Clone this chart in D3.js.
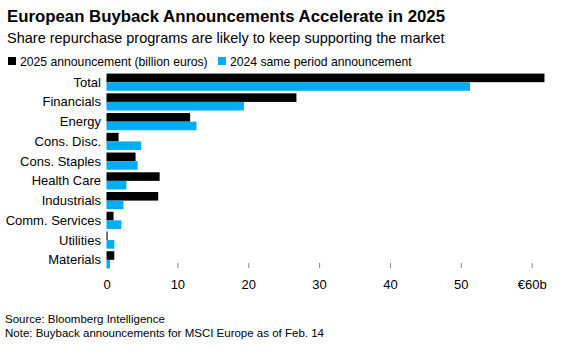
<!DOCTYPE html>
<html>
<head>
<meta charset="utf-8">
<script src="https://cdn.jsdelivr.net/npm/d3@7"></script>
<style>
  body { margin: 0; background: #fff; }
  text { font-family: "Liberation Sans", Arial, sans-serif; }
</style>
</head>
<body>
<script>
// sectors and buyback announcements, billion euros
var sectors = ["Total", "Financials", "Energy", "Cons. Disc.", "Cons. Staples",
               "Health Care", "Industrials", "Comm. Services", "Utilities", "Materials"];
var ann2025 = [61.8, 26.8, 11.8, 1.7, 4.1, 7.5, 7.3, 1.0, 0.15, 1.1];
var ann2024 = [51.3, 19.4, 12.7, 4.9, 4.4, 2.8, 2.4, 2.1, 1.1, 0.5];
var ticks = [0, 10, 20, 30, 40, 50, 60];

var W = 568, H = 348;
var svg = d3.select("body").append("svg").attr("width", W).attr("height", H);

svg.append("text").attr("x", 7).attr("y", 22)
  .style("font-size", "16.8px").style("font-weight", "bold")
  .text("European Buyback Announcements Accelerate in 2025");
svg.append("text").attr("x", 7).attr("y", 43)
  .style("font-size", "14.5px")
  .text("Share repurchase programs are likely to keep supporting the market");

// legend
var legend = [{label: "2025 announcement (billion euros)", col: "#000000", x: 8},
              {label: "2024 same period announcement", col: "#00adf5", x: 218}];
legend.forEach(function(d) {
  svg.append("rect").attr("x", d.x).attr("y", 57).attr("width", 8).attr("height", 8).attr("fill", d.col);
  svg.append("text").attr("x", d.x + 12).attr("y", 65.5).style("font-size", "12.2px").text(d.label);
});

var x = d3.scaleLinear().domain([0, 60]).range([106.5, 531.7]);
var y = d3.scaleBand().domain(sectors).range([73, 269]).paddingInner(0.13).paddingOuter(0.03);

var g = svg.append("g");
var rows = g.selectAll("g.row").data(sectors).enter().append("g")
  .attr("transform", function(d) { return "translate(0," + y(d) + ")"; });

rows.append("rect")
  .attr("x", x(0)).attr("y", 0)
  .attr("width", function(d, i) { return x(ann2025[i]) - x(0); })
  .attr("height", y.bandwidth() / 2)
  .attr("fill", "#000");
rows.append("rect")
  .attr("x", x(0)).attr("y", y.bandwidth() / 2)
  .attr("width", function(d, i) { return x(ann2024[i]) - x(0); })
  .attr("height", y.bandwidth() / 2)
  .attr("fill", "#00adf5");
rows.append("text")
  .attr("x", 101).attr("y", y.bandwidth() / 2).attr("dy", "0.35em")
  .attr("text-anchor", "end").style("font-size", "13px")
  .text(function(d) { return d; });

// x axis
var axis = d3.axisBottom(x).tickValues(ticks).tickSize(5).tickPadding(12)
  .tickFormat(function(d) { return d === 60 ? "€60b" : d; });
var ax = svg.append("g").attr("transform", "translate(0,263)").call(axis);
ax.select(".domain").remove();
ax.selectAll(".tick line").attr("stroke", "#888");
ax.selectAll(".tick text").style("font-size", "13px").attr("fill", "#000")
  .style("font-family", "'Liberation Sans', Arial, sans-serif");
ax.selectAll(".tick").filter(function(d) { return d === 0; }).select("line").remove();

svg.append("text").attr("x", 5).attr("y", 323).style("font-size", "11.5px")
  .text("Source: Bloomberg Intelligence");
svg.append("text").attr("x", 5).attr("y", 337).style("font-size", "11.5px")
  .text("Note: Buyback announcements for MSCI Europe as of Feb. 14");
</script>
</body>
</html>
